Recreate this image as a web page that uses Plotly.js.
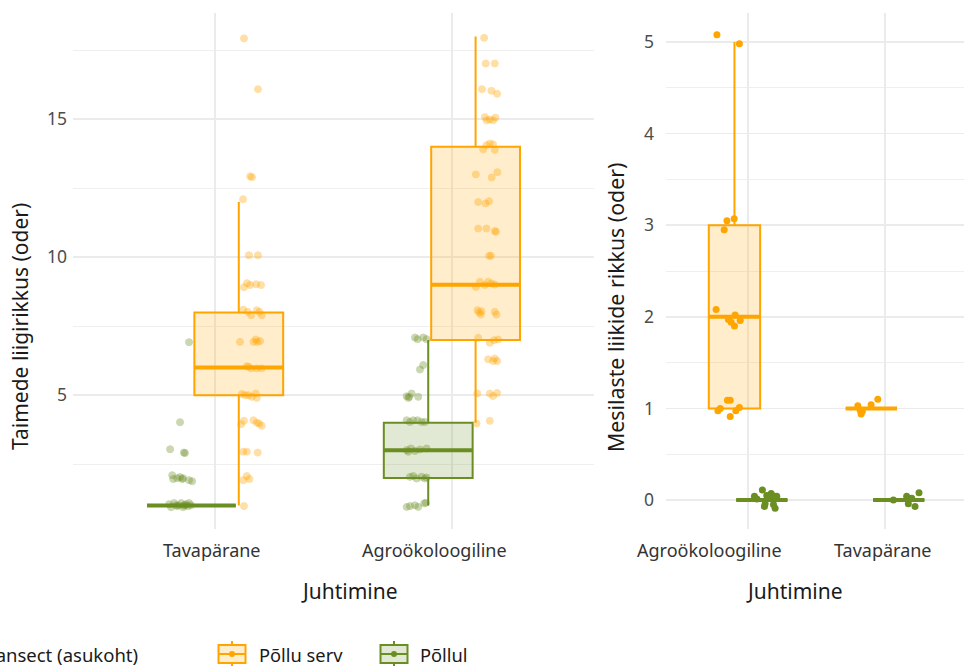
<!DOCTYPE html>
<html><head><meta charset="utf-8">
<script src="https://cdn.plot.ly/plotly-3.0.1.min.js"></script>
<style>html,body{margin:0;padding:0;background:#fff}#chart{width:964px;height:666px}</style>
</head><body><div id="chart"></div>
<script>
// ---------- DATA ----------
const categoriesLeft = ["Tavapärane", "Agroökoloogiline"];
const categoriesRight = ["Agroökoloogiline", "Tavapärane"];
const groupNames = ["Põllu serv", "Põllul"];
const legendTitle = "Transect (asukoht)";
const xTitle = "Juhtimine";
const yTitleLeft = "Taimede liigirikkus (oder)";
const yTitleRight = "Mesilaste liikide rikkus (oder)";
const yTicksLeft = [5, 10, 15];
const yTicksRight = [0, 1, 2, 3, 4, 5];

// Left panel box statistics (per category: Tavapärane, Agroökoloogiline)
const taimedServQ1 = [5, 7];
const taimedServMedian = [6, 9];
const taimedServQ3 = [8, 14];
const taimedServLow = [1, 4];
const taimedServHigh = [12, 18];
const taimedPollulQ1 = [1, 2];
const taimedPollulMedian = [1, 3];
const taimedPollulQ3 = [1, 4];
const taimedPollulLow = [1, 1];
const taimedPollulHigh = [1, 7];

// Right panel box statistics (per category: Agroökoloogiline, Tavapärane)
const mesiServQ1 = [1, 1];
const mesiServMedian = [2, 1];
const mesiServQ3 = [3, 1];
const mesiServLow = [1, 1];
const mesiServHigh = [5, 1];
const mesiPollulQ1 = [0, 0];
const mesiPollulMedian = [0, 0];
const mesiPollulQ3 = [0, 0];
const mesiPollulLow = [0, 0];
const mesiPollulHigh = [0, 0];

// Jittered observations, left panel (x in category units, y values)
const taimedServX = [1.122,1.181,1.148,1.156,1.118,1.143,1.181,1.122,1.135,1.148,1.173,1.194,1.119,1.138,1.152,1.176,1.187,1.197,1.105,1.162,1.172,1.178,1.190,1.134,1.141,1.152,1.176,1.197,1.113,1.127,1.141,1.155,1.172,1.176,1.110,1.122,1.162,1.176,1.186,1.197,1.119,1.134,1.180,1.119,1.134,1.145,1.122,
  2.136,2.143,2.181,2.127,2.167,2.191,2.139,2.146,2.160,2.174,2.184,2.132,2.146,2.160,2.174,2.181,2.101,2.168,2.192,2.111,2.142,2.157,2.111,2.146,2.181,2.186,2.157,2.165,2.101,2.118,2.139,2.153,2.167,2.181,2.108,2.115,2.125,2.122,2.181,2.188,2.111,2.160,2.178,2.195,2.153,2.174,2.181,2.191,2.107,2.160,2.174,2.191,2.104,2.160];
const taimedServY = [17.93,16.09,12.93,12.90,12.10,10.07,10.07,8.91,9.06,8.99,9.02,8.99,8.10,8.02,7.90,8.08,8.02,7.90,6.93,6.93,7.02,6.93,6.96,6.05,6.03,5.97,5.97,5.97,5.04,5.00,5.00,4.94,5.06,4.90,3.95,4.07,4.09,4.00,3.97,3.89,2.95,2.95,2.92,1.92,2.07,1.96,0.98,
  17.95,17.02,17.02,16.09,16.03,15.92,15.08,14.96,14.99,14.96,15.06,13.91,14.06,14.12,14.09,13.89,13.00,12.89,13.08,12.00,11.95,12.03,11.04,11.04,10.95,10.92,10.05,10.05,8.92,9.11,8.99,9.11,9.05,9.01,8.08,8.00,8.04,7.92,8.02,7.92,7.08,6.90,6.99,7.02,6.30,6.24,6.33,6.24,5.06,5.06,4.97,5.08,3.97,4.07];
const taimedPollulX = [0.890,0.852,0.810,0.873,0.868,0.819,0.823,0.840,0.852,0.861,0.865,0.890,0.903,0.806,0.814,0.827,0.840,0.848,0.857,0.865,0.869,0.878,0.886,0.890,0.899,0.835,0.873,
  1.844,1.855,1.879,1.893,1.865,1.879,1.809,1.816,1.820,1.830,1.858,1.809,1.823,1.837,1.855,1.872,1.886,1.809,1.827,1.844,1.865,1.893,1.816,1.823,1.837,1.851,1.872,1.886,1.893,1.809,1.823,1.844,1.858,1.883,1.890];
const taimedPollulY = [6.92,4.02,3.04,2.90,2.92,2.10,1.96,1.99,2.03,1.96,1.99,1.92,1.88,1.05,0.94,1.09,0.98,1.01,1.09,0.94,1.01,1.05,0.98,1.09,1.01,1.01,1.01,
  7.09,7.03,7.09,7.03,5.93,6.09,4.96,4.90,4.94,5.06,4.94,4.09,4.03,4.09,4.09,4.03,4.03,3.01,3.07,2.98,3.03,3.07,2.95,2.04,2.07,1.98,2.04,1.98,2.02,0.95,0.98,1.01,0.95,1.08,1.10];

// Jittered observations, right panel
const mesiServX = [0.772,0.936,0.845,0.898,0.825,0.766,0.856,0.876,0.900,0.905,0.942,0.849,0.869,0.796,0.779,0.869,0.910,0.936,
  1.801,1.818,1.825,1.834,1.898,1.947];
const mesiServY = [5.08,4.98,3.05,3.07,2.95,2.08,1.97,1.94,1.90,2.02,1.96,1.09,1.09,1.00,0.975,0.91,0.975,1.01,
  1.03,0.98,0.94,0.965,1.04,1.10];
const mesiPollulX = [1.046,1.064,1.104,1.119,1.136,1.148,1.168,1.185,1.192,1.197,1.209,1.124,
  2.061,2.158,2.170,2.195,2.219,2.248];
const mesiPollulY = [0.04,0.01,0.11,-0.07,0.05,0.02,0.07,-0.05,0.04,-0.09,0.04,-0.04,
  0.00,0.04,-0.04,0.02,-0.07,0.08];

// ---------- STYLE ----------
const ORANGE = "#FFA500", GREEN = "#6B8E23";
const ORANGE_FILL = "rgba(255,165,0,0.2)", GREEN_FILL = "rgba(107,142,35,0.2)";
const FONT = "Noto Sans";
const TEXT = "#1A1A1A";
const W = 964, H = 666;
const BOXW = 0.375, DODGE = 0.1;
const px = v => v / W, py = v => 1 - v / H;
const catPos = [1, 2];
const labelShiftLeft = [-3.5, -17.5];
const labelShiftRight = [-38.5, -2];

function boxTrace(pos, q1, med, q3, lo, hi, color, fill, xa, ya, name) {
  return {type: "box", x: pos, q1: q1, median: med, q3: q3, lowerfence: lo, upperfence: hi,
    width: BOXW, whiskerwidth: 0, boxpoints: false, line: {color: color, width: 2},
    fillcolor: fill, xaxis: xa, yaxis: ya, name: name, showlegend: false, hoverinfo: "skip"};
}
function medianTrace(pos, med, color, xa, ya) {
  const xs = [], ys = [];
  pos.forEach((p, i) => { xs.push(p - BOXW / 2, p + BOXW / 2, null); ys.push(med[i], med[i], null); });
  return {type: "scatter", mode: "lines", x: xs, y: ys, line: {color: color, width: 4},
    xaxis: xa, yaxis: ya, showlegend: false, hoverinfo: "skip"};
}
function pointTrace(x, y, color, alpha, xa, ya) {
  return {type: "scatter", mode: "markers", x: x, y: y, xaxis: xa, yaxis: ya,
    marker: {size: 7, color: color, opacity: alpha, line: {width: alpha < 1 ? 1 : 0, color: color}},
    showlegend: false, hoverinfo: "skip"};
}

const leftServPos = catPos.map(c => c + DODGE), leftPollulPos = catPos.map(c => c - DODGE);
const rightServPos = catPos.map(c => c - DODGE), rightPollulPos = catPos.map(c => c + DODGE);

const data = [
  boxTrace(leftServPos, taimedServQ1, taimedServMedian, taimedServQ3, taimedServLow, taimedServHigh, ORANGE, ORANGE_FILL, "x", "y", groupNames[0]),
  boxTrace(leftPollulPos, taimedPollulQ1, taimedPollulMedian, taimedPollulQ3, taimedPollulLow, taimedPollulHigh, GREEN, GREEN_FILL, "x", "y", groupNames[1]),
  medianTrace(leftServPos, taimedServMedian, ORANGE, "x", "y"),
  medianTrace(leftPollulPos, taimedPollulMedian, GREEN, "x", "y"),
  pointTrace(taimedServX, taimedServY, ORANGE, 0.35, "x", "y"),
  pointTrace(taimedPollulX, taimedPollulY, GREEN, 0.35, "x", "y"),
  boxTrace(rightServPos, mesiServQ1, mesiServMedian, mesiServQ3, mesiServLow, mesiServHigh, ORANGE, ORANGE_FILL, "x2", "y2", groupNames[0]),
  boxTrace(rightPollulPos, mesiPollulQ1, mesiPollulMedian, mesiPollulQ3, mesiPollulLow, mesiPollulHigh, GREEN, GREEN_FILL, "x2", "y2", groupNames[1]),
  medianTrace(rightServPos, mesiServMedian, ORANGE, "x2", "y2"),
  medianTrace(rightPollulPos, mesiPollulMedian, GREEN, "x2", "y2"),
  pointTrace(mesiServX, mesiServY, ORANGE, 1, "x2", "y2"),
  pointTrace(mesiPollulX, mesiPollulY, GREEN, 1, "x2", "y2")
];

const grid = "#EBEBEB";
const yTickFont = {family: FONT, size: 17.5, color: "#4D4D4D"};
const yDomain = [py(529), py(13)];
const layout = {
  width: W, height: H, margin: {l: 0, r: 0, t: 0, b: 0, autoexpand: false},
  paper_bgcolor: "#fff", plot_bgcolor: "#fff", showlegend: false, boxmode: "overlay",
  xaxis: {domain: [px(73), px(594)], range: [0.4, 2.6], tickmode: "array", tickvals: catPos, showticklabels: false,
    showgrid: true, gridcolor: grid, gridwidth: 1.6, zeroline: false, showline: false, ticks: "",
    anchor: "y", fixedrange: true},
  yaxis: {domain: yDomain, range: [0.15, 18.85], tickmode: "array", tickvals: yTicksLeft,
    minor: {tickmode: "array", tickvals: [2.5, 7.5, 12.5, 17.5], showgrid: true, gridcolor: grid, gridwidth: 0.8, ticks: ""},
    showgrid: true, gridcolor: grid, gridwidth: 1.6, zeroline: false, showline: false, ticks: "",
    tickfont: yTickFont, ticklabelstandoff: 5, anchor: "x", fixedrange: true},
  xaxis2: {domain: [px(666), 1], range: [0.4, 2 + (964 - 885) / 137], tickmode: "array", tickvals: catPos, showticklabels: false,
    showgrid: true, gridcolor: grid, gridwidth: 1.6, zeroline: false, showline: false, ticks: "",
    anchor: "y2", fixedrange: true},
  yaxis2: {domain: yDomain, range: [-0.317, 5.317], tickmode: "array", tickvals: yTicksRight,
    minor: {tickmode: "array", tickvals: [0.5, 1.5, 2.5, 3.5, 4.5], showgrid: true, gridcolor: grid, gridwidth: 0.8, ticks: ""},
    showgrid: true, gridcolor: grid, gridwidth: 1.6, zeroline: false, showline: false, ticks: "",
    tickfont: yTickFont, ticklabelstandoff: 11, anchor: "x2", fixedrange: true},
  annotations: [
    {text: xTitle, x: px(349), y: py(591), xref: "paper", yref: "paper", xanchor: "center", yanchor: "middle", showarrow: false, font: {family: FONT, size: 21, color: TEXT}},
    {text: xTitle, x: px(794), y: py(591), xref: "paper", yref: "paper", xanchor: "center", yanchor: "middle", showarrow: false, font: {family: FONT, size: 21, color: TEXT}},
    {text: yTitleLeft, x: px(20), y: py(327), xref: "paper", yref: "paper", xanchor: "center", yanchor: "middle", textangle: -90, showarrow: false, font: {family: FONT, size: 21, color: TEXT}},
    {text: yTitleRight, x: px(615), y: py(308), xref: "paper", yref: "paper", xanchor: "center", yanchor: "middle", textangle: -90, showarrow: false, font: {family: FONT, size: 21.3, color: TEXT}},
    {text: legendTitle, x: px(140), y: py(654), xref: "paper", yref: "paper", xanchor: "right", yanchor: "middle", showarrow: false, font: {family: FONT, size: 18.5, color: TEXT}},
    {text: groupNames[0], x: px(257), y: py(654), xref: "paper", yref: "paper", xanchor: "left", yanchor: "middle", showarrow: false, font: {family: FONT, size: 18.3, color: TEXT}},
    {text: groupNames[1], x: px(418), y: py(654), xref: "paper", yref: "paper", xanchor: "left", yanchor: "middle", showarrow: false, font: {family: FONT, size: 18.3, color: TEXT}}
  ],
  shapes: []
};

// category labels under each panel
categoriesLeft.forEach((c, i) => layout.annotations.push({text: c, x: catPos[i], xref: "x", y: py(550), yref: "paper",
  xanchor: "center", yanchor: "middle", xshift: labelShiftLeft[i], showarrow: false, font: {family: FONT, size: 18, color: "#333333"}}));
categoriesRight.forEach((c, i) => layout.annotations.push({text: c, x: catPos[i], xref: "x2", y: py(550), yref: "paper",
  xanchor: "center", yanchor: "middle", xshift: labelShiftRight[i], showarrow: false, font: {family: FONT, size: 18, color: "#333333"}}));

// legend keys (drawn like ggplot boxplot keys)
[[232, ORANGE, ORANGE_FILL], [394, GREEN, GREEN_FILL]].forEach(([cx, col, fill]) => {
  const base = {xref: "paper", yref: "paper", line: {color: col, width: 2}};
  layout.shapes.push(Object.assign({}, base, {type: "line", x0: px(cx), x1: px(cx), y0: py(641), y1: py(645)}));
  layout.shapes.push(Object.assign({}, base, {type: "line", x0: px(cx), x1: px(cx), y0: py(663), y1: py(667)}));
  layout.shapes.push(Object.assign({}, base, {type: "rect", x0: px(cx - 13.5), x1: px(cx + 13.5), y0: py(663), y1: py(645), fillcolor: fill}));
  layout.shapes.push(Object.assign({}, base, {type: "line", x0: px(cx - 13.5), x1: px(cx + 13.5), y0: py(654), y1: py(654)}));
  layout.shapes.push({type: "circle", xref: "paper", yref: "paper", x0: px(cx - 3), x1: px(cx + 3), y0: py(657), y1: py(651), fillcolor: col, line: {width: 0}});
});

Plotly.newPlot("chart", data, layout, {staticPlot: true, displayModeBar: false});
</script>
</body></html>
